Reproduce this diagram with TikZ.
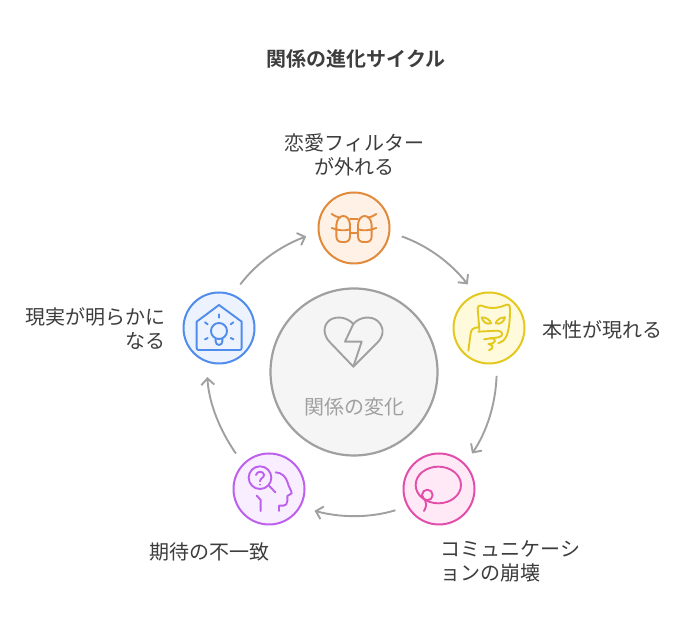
\documentclass[tikz,border=0pt]{standalone}
\usepackage{fontspec}
\usetikzlibrary{arrows.meta}
\setmainfont{Noto Sans CJK JP}
\newfontfamily\titlefont[BoldFont={Noto Sans CJK JP Bold}]{Noto Sans CJK JP}
\definecolor{txt}{HTML}{3D3D3D}
\definecolor{gry}{HTML}{A0A0A0}
\definecolor{oS}{HTML}{E28A3B}\definecolor{oF}{HTML}{FFF1E6}
\definecolor{yS}{HTML}{E3C91F}\definecolor{yF}{HTML}{FFFADC}
\definecolor{pS}{HTML}{E24FAB}\definecolor{pF}{HTML}{FFE9F6}
\definecolor{vS}{HTML}{BD60EE}\definecolor{vF}{HTML}{F8EEFF}
\definecolor{bS}{HTML}{4F8CEC}\definecolor{bF}{HTML}{ECF3FF}
\tikzset{
  x=1pt,y=1pt,
  stage/.style={circle,draw=#1,line width=2pt,minimum size=71pt,inner sep=0pt,outer sep=13pt},
  hub/.style={circle,draw=gry,fill=black!4,line width=2.2pt,minimum size=167pt,inner sep=0pt},
  lbl/.style={text=txt,font=\fontsize{20}{24}\selectfont,inner sep=0pt},
  flow/.style={draw=gry,line width=1.9pt,-{Straight Barb[length=6.5pt,width=13pt,line width=1.9pt]},looseness=0.86},
  glyph/.style={line width=1.9pt,line cap=round,line join=round,draw=#1,fill=none},
  iconat/.style 2 args={shift={(#1,636-#2)},xscale=1/3,yscale=-1/3},
}
\begin{document}
\begin{tikzpicture}
\useasboundingbox (0,0) rectangle (696,636);
\fill[white] (0,0) rectangle (696,636);

\node[hub] (hubc) at (354,264) {};
\node[stage=oS,fill=oF] (n1) at (354,408) {};
\node[stage=yS,fill=yF] (n2) at (489,308) {};
\node[stage=pS,fill=pF] (n3) at (439,147) {};
\node[stage=vS,fill=vF] (n4) at (269,147) {};
\node[stage=bS,fill=bF] (n5) at (219,308) {};

\draw[flow] (n1.-10.6) to[out=-19.6,in=128.2] (n2.116);
\draw[flow] (n2.-81) to[out=-92,in=56.1] (n3.47.4);
\draw[flow,shorten >=2pt] (n3.206) to[out=-163,in=-15.2] (n4.-26);
\draw[flow,shorten >=2pt] (n4.133) to[out=124.8,in=-86.9] (n5.256);
\draw[flow] (n5.64) to[out=52.6,in=200.3] (n1.190);

\node[text=txt,font=\titlefont\bfseries\fontsize{20}{24}\selectfont,inner sep=0pt] (title) at (356,577) {関係の進化サイクル};
\node[lbl,align=center] (l1) at (354.5,481) {恋愛フィルター\\が外れる};
\node[lbl,anchor=west] (l2) at (542.5,306) {本性が現れる};
\node[lbl,align=left,anchor=north west] (l3) at (440.5,96) {コミュニケーシ\\ョンの崩壊};
\node[lbl] (l4) at (209,84) {期待の不一致};
\node[lbl,align=right,anchor=east] (l5) at (165.5,307) {現実が明らかに\\なる};
\node[lbl,text=gry] (l0) at (354.5,229) {関係の変化};

% hub icon: broken heart
\begin{scope}[iconat={290}{300}]
\draw[glyph=gry] (190,200) -- (118,125) .. controls (100,105) and (98,78) .. (118,61) .. controls (140,46) and (172,52) .. (190,72) .. controls (208,50) and (245,46) .. (264,64) .. controls (285,85) and (280,110) .. (262,128) -- cycle;
\draw[glyph=gry] (190,72) -- (165,125) -- (215,125) -- (190,200);
\end{scope}

% glasses
\begin{scope}[iconat={300}{180}]
\foreach \m in {0,1}{
\begin{scope}[shift={(\m*324,0)},xscale={1-2*\m}]
\draw[glyph=oS] (109,135) .. controls (110,118) and (120,108) .. (130,108) .. controls (141,108) and (149,118) .. (150,135) -- (150,168) .. controls (150,180) and (144,186) .. (134,186) -- (125,186) .. controls (115,186) and (109,180) .. (109,168) -- cycle;
\draw[glyph=oS] (95,144) .. controls (115,152) and (135,153) .. (150,148);
\draw[glyph=oS] (95,102) .. controls (105,108) and (112,112) .. (120,113);
\end{scope}}
\draw[glyph=oS] (150,118) -- (174,118);
\draw[glyph=oS] (150,160) -- (174,160);
\end{scope}

% mask and hand
\begin{scope}[iconat={440}{280}]
\draw[glyph=yS] (118,150) -- (113,85) .. controls (113,77) and (118,75) .. (125,77) .. controls (150,88) and (175,85) .. (200,74) .. controls (207,72) and (210,76) .. (210,85) .. controls (210,120) and (208,165) .. (190,182) -- (175,190);
\draw[glyph=yS] (125,112) .. controls (140,112) and (150,120) .. (153,130) .. controls (140,135) and (128,125) .. (125,112) -- cycle;
\draw[glyph=yS] (195,112) .. controls (180,112) and (170,120) .. (167,130) .. controls (180,135) and (192,125) .. (195,112) -- cycle;
\draw[glyph=yS] (85,212) -- (92,160) .. controls (93,148) and (100,143) .. (115,142);
\draw[glyph=yS] (115,155) -- (172,152) .. controls (190,152) and (192,170) .. (175,172) -- (132,178);
\draw[glyph=yS] (150,174) -- (160,176) .. controls (168,180) and (165,188) .. (158,190) -- (145,192);
\draw[glyph=yS] (148,193) .. controls (160,195) and (162,205) .. (147,211);
\end{scope}

% speech loop
\begin{scope}[iconat={390}{440}]
\draw[glyph=pS] (145,135) ellipse [x radius=68,y radius=55];
\draw[glyph=pS,fill=pF] (112,165) circle [radius=16];
\draw[glyph=pS] (96,168) .. controls (100,178) and (118,185) .. (102,213);
\end{scope}

% head with magnifier
\begin{scope}[iconat={220}{440}]
\draw[glyph=vS] (120,113) circle [radius=34];
\draw[glyph=vS] (147,137) -- (166,157);
\draw[glyph=vS] (108,105) .. controls (110,93) and (130,92) .. (132,104) .. controls (133,114) and (120,114) .. (120,124);
\fill[vS] (120,134) circle [radius=3];
\draw[glyph=vS] (167,97) .. controls (185,98) and (198,110) .. (203,128) .. controls (206,142) and (215,152) .. (215,160) -- (202,168) -- (202,183) .. controls (202,192) and (197,197) .. (190,197) -- (177,197) -- (177,213);
\draw[glyph=vS] (110,167) -- (122,180) -- (122,213);
\end{scope}

% house with bulb
\begin{scope}[iconat={170}{280}]
\draw[glyph=bS] (80,125) -- (147,75) -- (215,125) -- (215,203) .. controls (215,208) and (213,210) .. (209,210) -- (86,210) .. controls (82,210) and (80,208) .. (80,203) -- cycle;
\draw[glyph=bS] (147,153) circle [radius=24];
\draw[glyph=bS] (137,177) -- (137,185) .. controls (138,198) and (156,198) .. (157,185) -- (157,177);
\draw[glyph=bS] (147,103) -- (147,113);
\draw[glyph=bS] (105,127) -- (113,133);
\draw[glyph=bS] (190,127) -- (182,133);
\draw[glyph=bS] (105,178) -- (113,174);
\draw[glyph=bS] (190,178) -- (182,174);
\end{scope}
\end{tikzpicture}
\end{document}
